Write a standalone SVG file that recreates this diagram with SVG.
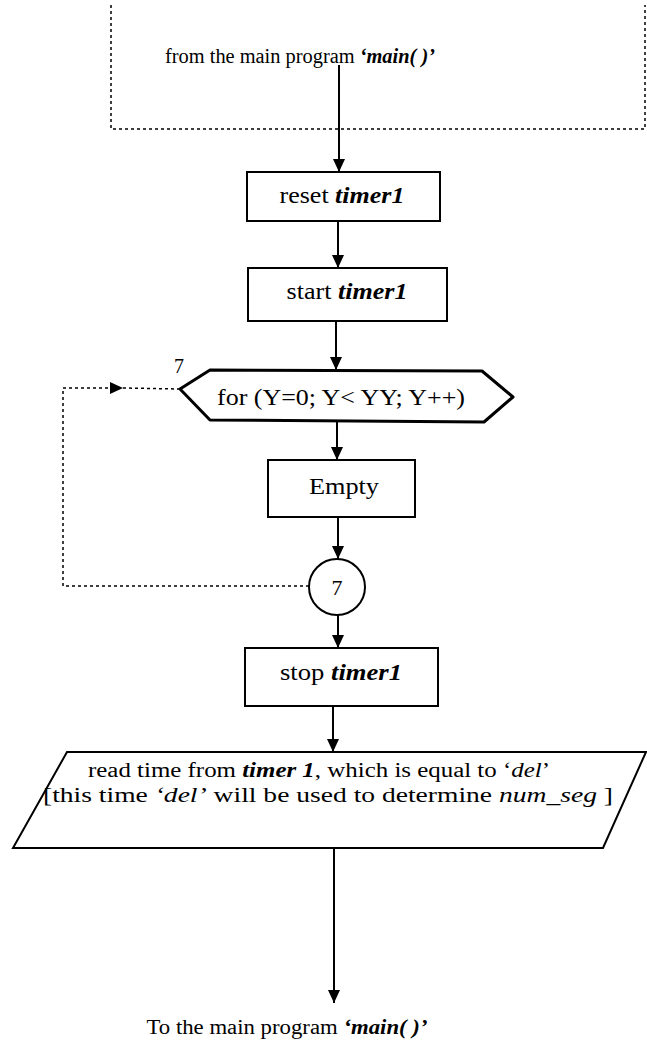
<svg xmlns="http://www.w3.org/2000/svg" width="647" height="1057" viewBox="0 0 647 1057">
<style>
text{font-family:"Liberation Serif","Times New Roman",serif;fill:#000}
.i{font-style:italic}
.b{font-style:italic;font-weight:bold}
.box{fill:#fff;stroke:#000;stroke-width:2}
.thick{fill:#fff;stroke:#000;stroke-width:3;stroke-linejoin:round}
.ln{fill:none;stroke:#000;stroke-width:2}
.dot{fill:none;stroke:#000;stroke-width:1.5;stroke-dasharray:3 3}
</style>
<defs>
<marker id="ah" markerUnits="userSpaceOnUse" markerWidth="14" markerHeight="12" refX="13" refY="6" orient="auto">
<path d="M0,0 L13,6 L0,12 z" fill="#000"/>
</marker>
</defs>
<g id="source">
<path class="dot" d="M111,5 V129 H645 V5"/>
<text x="300" y="63" text-anchor="middle" font-size="20" textLength="270" lengthAdjust="spacingAndGlyphs">from the main program <tspan class="b">‘main( )’</tspan></text>
</g>
<g id="reset">
<rect class="box" x="247" y="172" width="193" height="49"/>
<text x="342" y="203" text-anchor="middle" font-size="23" textLength="125" lengthAdjust="spacingAndGlyphs">reset <tspan class="b">timer1</tspan></text>
</g>
<g id="start">
<rect class="box" x="248" y="268" width="199" height="53"/>
<text x="347" y="299" text-anchor="middle" font-size="23" textLength="121" lengthAdjust="spacingAndGlyphs">start <tspan class="b">timer1</tspan></text>
</g>
<g id="loop">
<path class="thick" d="M180,389 L210,370 L482,371 L513,397 L484,422 L210,420 Z"/>
<text x="341" y="405" text-anchor="middle" font-size="24" textLength="248" lengthAdjust="spacingAndGlyphs">for (Y=0; Y&lt; YY; Y++)</text>
<text x="179" y="373" text-anchor="middle" font-size="20">7</text>
</g>
<g id="empty">
<rect class="box" x="268" y="460" width="147" height="57"/>
<text x="344" y="494" text-anchor="middle" font-size="24" textLength="70" lengthAdjust="spacingAndGlyphs">Empty</text>
</g>
<g id="connector7">
<circle cx="337" cy="587" r="28" fill="#fff" stroke="#000" stroke-width="2"/>
<text x="337" y="595" text-anchor="middle" font-size="22">7</text>
</g>
<g id="stop">
<rect class="box" x="245" y="648" width="193" height="58"/>
<text x="341" y="680" text-anchor="middle" font-size="23" textLength="122" lengthAdjust="spacingAndGlyphs">stop <tspan class="b">timer1</tspan></text>
</g>
<g id="read">
<path class="box" stroke-width="2.5" d="M67,752 L646,752 L603,848 L13,848 Z"/>
<text x="319" y="777" text-anchor="middle" font-size="20" textLength="462" lengthAdjust="spacingAndGlyphs">read time from <tspan class="b">timer 1</tspan>, which is equal to ‘<tspan class="i">del</tspan>’</text>
<text x="328" y="802" text-anchor="middle" font-size="20" textLength="570" lengthAdjust="spacingAndGlyphs">[this time <tspan class="i">‘del’</tspan> will be used to determine <tspan class="i">num_seg</tspan> ]</text>
</g>
<g id="sink">
<text x="287" y="1034" text-anchor="middle" font-size="20" textLength="281" lengthAdjust="spacingAndGlyphs">To the main program <tspan class="b">‘main( )’</tspan></text>
</g>
<g id="connectors">
<line class="ln" x1="339" y1="65" x2="339" y2="172" marker-end="url(#ah)"/>
<line class="ln" x1="338" y1="221" x2="338" y2="268" marker-end="url(#ah)"/>
<line class="ln" x1="336" y1="321" x2="336" y2="370" marker-end="url(#ah)"/>
<line class="ln" x1="337" y1="422" x2="337" y2="460" marker-end="url(#ah)"/>
<line class="ln" x1="338" y1="517" x2="338" y2="559" marker-end="url(#ah)"/>
<line class="ln" x1="338" y1="615" x2="338" y2="648" marker-end="url(#ah)"/>
<line class="ln" x1="333" y1="706" x2="333" y2="752" marker-end="url(#ah)"/>
<line class="ln" x1="334" y1="848" x2="334" y2="1003" marker-end="url(#ah)"/>
<path class="dot" d="M309,586 H63 V388 H123" marker-end="url(#ah)"/>
<line class="dot" x1="123" y1="388" x2="180" y2="389"/>
</g>
</svg>
